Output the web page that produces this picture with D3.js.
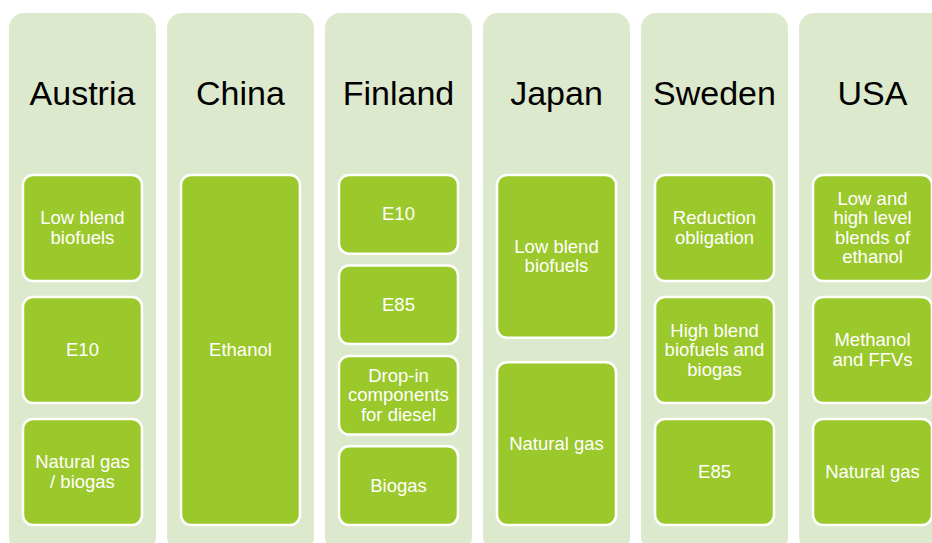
<!DOCTYPE html>
<html>
<head>
<meta charset="utf-8">
<script src="https://cdn.jsdelivr.net/npm/d3@7"></script>
<style>
  body { margin: 0; background: #fff; }
  .country { font-family: "Liberation Sans", Arial, sans-serif; font-size: 34px; fill: #000; }
  .measure { font-family: "Liberation Sans", Arial, sans-serif; font-size: 18.5px; fill: #fff; }
</style>
</head>
<body>
<div id="chart"></div>
<script>
// countries and their measures (top to bottom)
const countries = ['Austria', 'China', 'Finland', 'Japan', 'Sweden', 'USA'];
const austria = ['Low blend\nbiofuels', 'E10', 'Natural gas\n/ biogas'];
const china = ['Ethanol'];
const finland = ['E10', 'E85', 'Drop-in\ncomponents\nfor diesel', 'Biogas'];
const japan = ['Low blend\nbiofuels', 'Natural gas'];
const sweden = ['Reduction\nobligation', 'High blend\nbiofuels and\nbiogas', 'E85'];
const usa = ['Low and\nhigh level\nblends of\nethanol', 'Methanol\nand FFVs', 'Natural gas'];
const measures = [austria, china, finland, japan, sweden, usa];

let width = 932, height = 543;

let svg = d3.select('#chart').append('svg')
    .attr('width', width)
    .attr('height', height);

let x = d3.scaleBand()
    .domain(countries)
    .range([9, 946])
    .paddingInner(0.07);

let colTop = 13, colBot = 552;
let boxTop = 175, boxBot = 525;
let inset = 14;

let cols = svg.selectAll('g.col')
    .data(countries)
    .enter()
    .append('g')
    .attr('class', 'col')
    .attr('transform', d => 'translate(' + x(d) + ',0)');

cols.append('rect')
    .attr('x', 0)
    .attr('y', colTop)
    .attr('width', x.bandwidth())
    .attr('height', colBot - colTop)
    .attr('rx', 15)
    .attr('fill', '#dde9cd');

cols.append('text')
    .attr('class', 'country')
    .attr('x', x.bandwidth() / 2)
    .attr('y', 105)
    .attr('text-anchor', 'middle')
    .text(d => d);

cols.each(function(c, ci) {
    let items = measures[ci];
    let y = d3.scaleBand()
        .domain(d3.range(items.length))
        .range([boxTop, boxBot])
        .paddingInner(items.length > 1 ? 0.13 : 0);

    let g = d3.select(this);
    let boxes = g.selectAll('g.box')
        .data(items)
        .enter()
        .append('g')
        .attr('class', 'box');

    boxes.append('rect')
        .attr('x', inset)
        .attr('y', (d, i) => y(i))
        .attr('width', x.bandwidth() - inset * 2)
        .attr('height', y.bandwidth())
        .attr('rx', 10)
        .attr('fill', '#9bc82a')
        .attr('stroke', '#fff')
        .attr('stroke-width', 2.5);

    let lineH = 19.5;
    boxes.append('text')
        .attr('class', 'measure')
        .attr('text-anchor', 'middle')
        .each(function(d, i) {
            let lines = d.split('\n');
            let cy = y(i) + y.bandwidth() / 2;
            let first = cy - (lines.length - 1) * lineH / 2 + 6;
            let t = d3.select(this);
            lines.forEach((ln, k) => {
                t.append('tspan')
                    .attr('x', x.bandwidth() / 2)
                    .attr('y', first + k * lineH)
                    .text(ln);
            });
        });
});
</script>
</body>
</html>
